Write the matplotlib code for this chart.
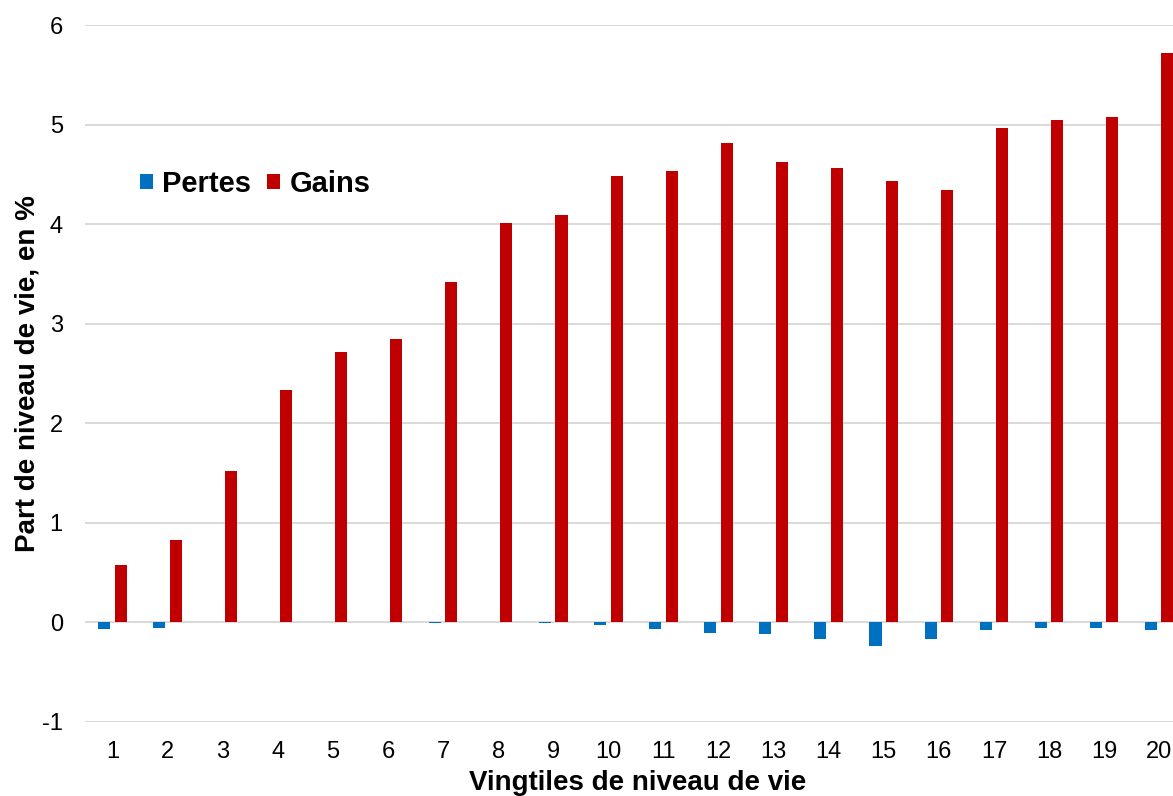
import numpy as np
import matplotlib
matplotlib.use("Agg")
import matplotlib.pyplot as plt

# --------------------------
# DATA
# --------------------------
vingtiles = list(range(1, 21))
pertes = [-0.07, -0.06, 0.0, 0.0, 0.0, 0.0, -0.01, 0.0, -0.01, -0.03,
          -0.07, -0.11, -0.12, -0.17, -0.24, -0.17, -0.08, -0.06, -0.06, -0.08]
gains = [0.58, 0.83, 1.52, 2.33, 2.72, 2.85, 3.42, 4.01, 4.09, 4.48,
         4.53, 4.81, 4.62, 4.56, 4.43, 4.34, 4.97, 5.05, 5.08, 5.72]
yticks = [-1, 0, 1, 2, 3, 4, 5, 6]

BLUE = "#0070C0"
RED = "#C00000"

plt.rcParams["font.family"] = ["Liberation Sans", "DejaVu Sans"]

# --------------------------
# FIGURE
# --------------------------
fig = plt.figure(figsize=(11.73, 7.96), dpi=100)
ax = fig.add_axes([85 / 1173, 74 / 796, 1088 / 1173, 697 / 796])

x = np.array(vingtiles)
w = 0.22
ax.bar(x - 0.15, pertes, width=w, color=BLUE, label="Pertes", zorder=3)
ax.bar(x + 0.15, gains, width=w, color=RED, label="Gains", zorder=3)

ax.set_xlim(0.5, 20.25)
ax.set_ylim(-1, 6)
ax.set_yticks(yticks)
ax.set_yticklabels([str(t) for t in yticks])
ax.set_xticks(x)
ax.set_xticklabels([str(v) for v in vingtiles])

ax.grid(axis="y", color="#d9d9d9", linewidth=1.4, zorder=0)
ax.set_axisbelow(True)
for s in ax.spines.values():
    s.set_visible(False)
ax.tick_params(axis="both", length=0, labelsize=17, colors="black")
ax.tick_params(axis="y", pad=16)
ax.tick_params(axis="x", pad=14)

# axis titles
ax.set_ylabel("Part de niveau de vie, en %", fontsize=20, fontweight="bold")
ax.yaxis.set_label_coords((41 - 85) / 1088, 0.5)
ax.set_xlabel("Vingtiles de niveau de vie", fontsize=20, fontweight="bold")
ax.xaxis.set_label_coords((637.5 - 85) / 1088, -0.069)
ax.xaxis.label.set_va("top")

# legend
ax.legend(loc="center left", bbox_to_anchor=((140 - 85) / 1088, (722 - 184) / 697),
          ncol=2, frameon=False, borderpad=0, borderaxespad=0,
          handlelength=0.45, handleheight=0.45, handletextpad=0.31,
          columnspacing=0.55, prop={"size": 21, "weight": "bold"})

fig.savefig("out.png", dpi=100)
